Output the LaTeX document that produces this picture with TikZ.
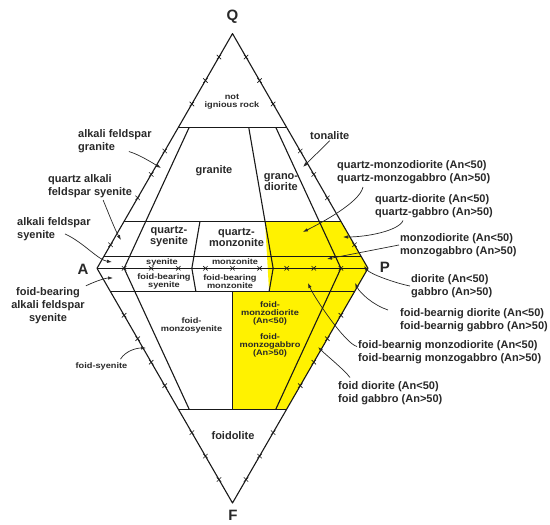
\documentclass[tikz,border=0pt]{standalone}
\usepackage{fontspec}
\setmainfont{Liberation Sans}
\newfontfamily\widesans[FakeStretch=1.15]{Liberation Sans}
\usetikzlibrary{calc,arrows.meta}
\definecolor{qapfyellow}{RGB}{255,242,0}
\definecolor{labelgray}{RGB}{40,40,40}
\definecolor{linegray}{RGB}{25,25,25}

\tikzset{
  divline/.style={draw=linegray, line width=1.1pt, line join=round},
  lbl/.style={font=\bfseries\fontsize{11}{13.3}\selectfont, text=labelgray, inner sep=1pt, align=left, anchor=west},
  fld/.style={font=\bfseries\fontsize{11}{11}\selectfont, text=labelgray, inner sep=1pt, align=center},
  sml/.style={font=\widesans\bfseries\fontsize{8}{8}\selectfont, text=labelgray, inner sep=1pt, align=center},
  vtx/.style={font=\bfseries\fontsize{15}{15}\selectfont, text=labelgray, inner sep=1pt},
  pointer/.style={draw=labelgray, line width=0.7pt, -{Latex[length=5pt,width=3.5pt]}},
  tickx/.pic={\draw[linegray, line width=0.6pt] (-2.2,-2.2) -- (2.2,2.2) (-2.2,2.2) -- (2.2,-2.2);}
}

\begin{document}
\begin{tikzpicture}[x=1pt,y=-1pt]
\useasboundingbox (0,0) rectangle (550,525);
%頂点
\coordinate (A) at (97,268.3);
\coordinate (P) at (368,268.3);
\coordinate (Q) at (232.5,33.6);
\coordinate (F) at (232.5,503);
\node[vtx] (Alabel) at (83,269.5) {A};
\node[vtx] (Plabel) at (385,267.5) {P};
\node[vtx] (Qlabel) at (232.5,17) {Q};
\node[vtx] (Flabel) at (233,515) {F};

%A-P上の点
\coordinate (b10) at ($(A)!0.10!(P)$);
\coordinate (b35) at ($(A)!0.35!(P)$);
\coordinate (b50) at ($(A)!0.50!(P)$);
\coordinate (b65) at ($(A)!0.65!(P)$);
\coordinate (b90) at ($(A)!0.90!(P)$);

%横線の端
\coordinate (q60l) at ($(A)!0.6!(Q)$);
\coordinate (q60r) at ($(P)!0.6!(Q)$);
\coordinate (q20l) at ($(A)!0.2!(Q)$);
\coordinate (q20r) at ($(P)!0.2!(Q)$);
\coordinate (q05l) at ($(A)!0.05!(Q)$);
\coordinate (q05r) at ($(P)!0.05!(Q)$);
\coordinate (f10l) at ($(A)!0.1!(F)$);
\coordinate (f10r) at ($(P)!0.1!(F)$);
\coordinate (f60l) at ($(A)!0.6!(F)$);
\coordinate (f60r) at ($(P)!0.6!(F)$);

%黄色の領域
\fill[qapfyellow] ($(Q)!0.8!(b65)$) -- (q20r) -- (P) -- (f60r)
  -- ($(F)!0.4!(b50)$) -- ($(F)!0.9!(b50)$) -- ($(F)!0.9!(b65)$) -- cycle;

%外枠と区分線
\draw[divline] (Q) -- (A) -- (F) -- (P) -- cycle;
\draw[divline] (q60l) -- (q60r);
\draw[divline] (q20l) -- (q20r);
\draw[divline] (q05l) -- (q05r);
\draw[divline] (A) -- (P);
\draw[divline] (f10l) -- (f10r);
\draw[divline] (f60l) -- (f60r);
\draw[divline] ($(Q)!0.4!(b10)$) -- (b10) -- ($(F)!0.4!(b10)$);
\draw[divline] ($(Q)!0.4!(b65)$) -- (b65) -- ($(F)!0.9!(b65)$);
\draw[divline] ($(Q)!0.4!(b90)$) -- (b90) -- ($(F)!0.4!(b90)$);
\draw[divline] ($(Q)!0.8!(b35)$) -- (b35) -- ($(F)!0.9!(b35)$);
\draw[divline] ($(F)!0.9!(b50)$) -- ($(F)!0.4!(b50)$);

%目盛り
\foreach \k in {1,3,4,5,7,8,9} {
  \pic at ($(A)!\k/10!(Q)$) {tickx};
  \pic at ($(P)!\k/10!(Q)$) {tickx};
}
\foreach \k in {2,3,4,5,7,8,9} {
  \pic at ($(A)!\k/10!(F)$) {tickx};
  \pic at ($(P)!\k/10!(F)$) {tickx};
}
\foreach \k in {1,...,9}
  \pic at ($(A)!\k/10!(P)$) {tickx};

%区分の名前
\node[sml] (nir) at (232,102) {not\\ignious rock};
\node[fld] (granite) at (214,171) {granite};
\node[fld] (grano) at (281,182.5) {grano-\\diorite};
\node[fld] (qsy) at (169,237) {quartz-\\syenite};
\node[fld] (qmz) at (236.5,237) {quartz-\\monzonite};
\node[sml] (sy) at (162,262) {syenite};
\node[sml] (mz) at (235,261.5) {monzonite};
\node[sml] (fbsy) at (164,281.5) {foid-bearing\\syenite};
\node[sml] (fbmz) at (230,281.5) {foid-bearing\\monzonite};
\node[sml] (fmzs) at (191.5,325.5) {foid-\\monzosyenite};
\node[sml] (fmzd) at (270,313.5) {foid-\\monzodiorite\\(An<50)};
\node[sml] (fmzg) at (270,345.5) {foid-\\monzogabbro\\(An>50)};
\node[fld] (foidolite) at (233,436) {foidolite};

%外側のラベル
\node[lbl] (afg) at (77,141.5) {alkali feldspar\\granite};
\node[lbl] (qafs) at (47,186) {quartz alkali\\feldspar syenite};
\node[lbl] (afs) at (16,229) {alkali feldspar\\syenite};
\node[lbl, align=center, anchor=center] (fbafs) at (48,305.5) {foid-bearing\\alkali feldspar\\syenite};
\node[sml] (fsy) at (101.5,366) {foid-syenite};
\node[lbl] (ton) at (309,135.5) {tonalite};
\node[lbl] (qmd) at (336,172) {quartz-monzodiorite (An<50)\\quartz-monzogabbro (An>50)};
\node[lbl] (qd) at (374,206.5) {quartz-diorite (An<50)\\quartz-gabbro (An>50)};
\node[lbl] (mzd) at (399,245) {monzodiorite (An<50)\\monzogabbro (An>50)};
\node[lbl] (dio) at (410,286) {diorite (An<50)\\gabbro (An>50)};
\node[lbl] (fbd) at (399,320) {foid-bearnig diorite (An<50)\\foid-bearnig gabbro (An>50)};
\node[lbl] (fbmd) at (357,352.5) {foid-bearnig monzodiorite (An<50)\\foid-bearnig monzogabbro (An>50)};
\node[lbl] (fdio) at (337,393.5) {foid diorite (An<50)\\foid gabbro (An>50)};

%矢印の先
\coordinate (t-afg) at (161,168);
\coordinate (t-qafs) at (121,240);
\coordinate (t-afs) at (112,262);
\coordinate (t-fbafs) at (113,278);
\coordinate (t-fsy) at (146,348);
\coordinate (t-ton) at (303,167);
\coordinate (t-qmd) at (303,232);
\coordinate (t-qd) at (343,237);
\coordinate (t-mzd) at (327,259);
\coordinate (t-dio) at (364,266);
\coordinate (t-fbd) at (355,283);
\coordinate (t-fbmd) at (308,283);
\coordinate (t-fdio) at (318,347);

%矢印
\draw[pointer] ($(afg.south)+(14,-3)$) .. controls +(10,3) and +(-10,-6) .. (t-afg);
\draw[pointer] ($(qafs.south)+(13,1)$) .. controls +(5,12) and +(-6,-10) .. (t-qafs);
\draw[pointer] ($(afs.south west)+(49,-8)$) .. controls +(18,8) and +(-14,-2) .. (t-afs);
\draw[pointer] (fbafs.north east) .. controls +(8,-4) and +(-8,0) .. (t-fbafs);
\draw[pointer] ($(fsy.north east)+(-8,-2)$) .. controls +(5,-8) and +(-10,0) .. (t-fsy);
\draw[pointer] (ton.south) -- (t-ton);
\draw[pointer] ($(qmd.south west)+(27,2)$) .. controls +(-3,15) and +(20,-10) .. (t-qmd);
\draw[pointer] ($(qd.south west)+(29,1)$) .. controls +(-4,10) and +(25,0) .. (t-qd);
\draw[pointer] (mzd.west) -- (t-mzd);
\draw[pointer] (dio.west) .. controls +(-15,-3) and +(6,8) .. (t-dio);
\draw[pointer] ($(fbd.west)+(-11,-10)$) .. controls +(-15,-5) and +(5,10) .. (t-fbd);
\draw[pointer] ($(fbmd.west)+(0,-6)$) .. controls +(-12,-3) and +(6,14) .. (t-fbmd);
\draw[pointer] ($(fdio.north west)+(13,-3)$) .. controls +(-6,-8) and +(8,8) .. (t-fdio);
\end{tikzpicture}
\end{document}
